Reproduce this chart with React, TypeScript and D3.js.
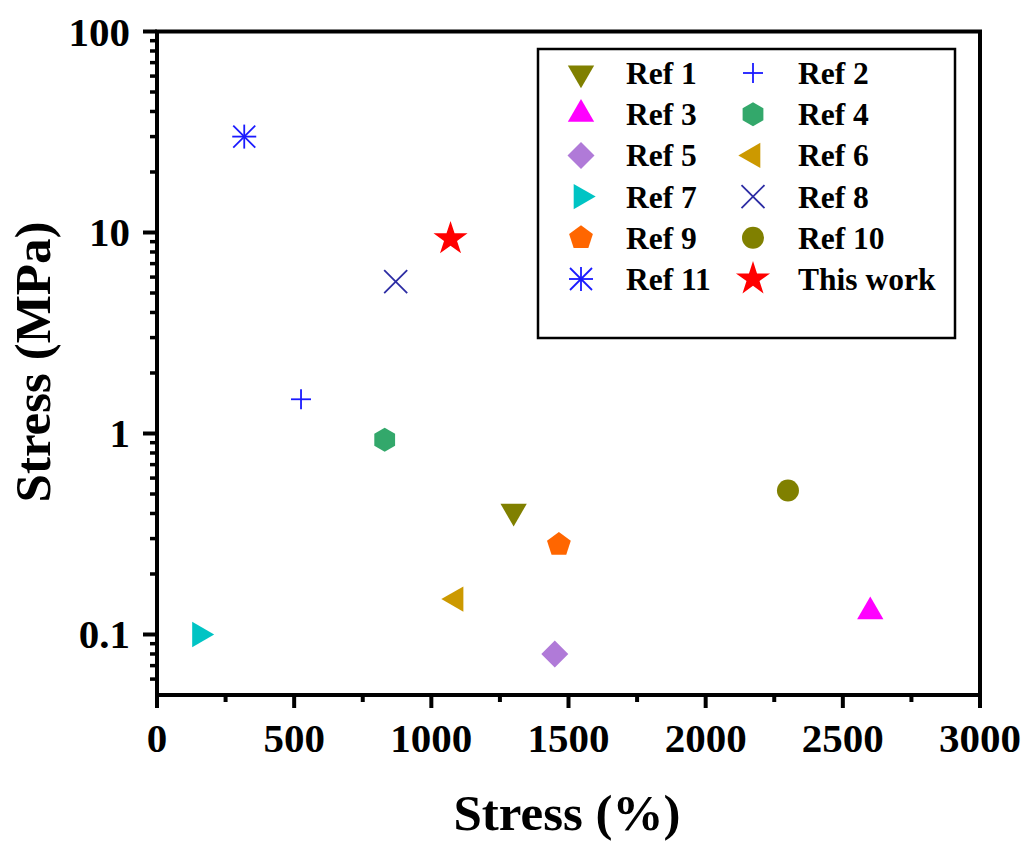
import React from "react";
import * as d3 from "d3";

const labels = ["Ref 1", "Ref 2", "Ref 3", "Ref 4", "Ref 5", "Ref 6", "Ref 7", "Ref 8", "Ref 9", "Ref 10", "Ref 11", "This work"];
const strainValues = [1300, 525, 2600, 830, 1450, 1090, 155, 870, 1465, 2300, 318, 1070];
const stressValues = [0.41, 1.48, 0.13, 0.93, 0.08, 0.15, 0.1, 5.7, 0.28, 0.52, 30, 9.3];
const markerKinds = ["triDown", "plus", "triUp", "hexagon", "diamond", "triLeft", "triRight", "cross", "pentagon", "circle", "asterisk", "star"];
const colors = ["#808000", "#1a1aff", "#ff00ff", "#33a86b", "#b07ad8", "#cc9900", "#00c4c4", "#2b2ba3", "#ff6600", "#808000", "#1a1aff", "#ff0000"];
const xTicks = [0, 500, 1000, 1500, 2000, 2500, 3000];
const yTicks = [0.1, 1, 10, 100];
const yTickLabels = ["0.1", "1", "10", "100"];

const W = 1030, H = 841;
const L = 157, R = 980, T = 31.5, B = 695;
const FONT = "'Liberation Serif', 'Times New Roman', serif";

function polygon(n: number, r: number, rot: number): string {
  const pts: string[] = [];
  for (let i = 0; i < n; i++) {
    const a = rot + (i * 2 * Math.PI) / n;
    pts.push(`${(r * Math.cos(a)).toFixed(2)},${(r * Math.sin(a)).toFixed(2)}`);
  }
  return "M" + pts.join("L") + "Z";
}

function Marker({ kind, color, x, y }: { kind: string; color: string; x: number; y: number }) {
  const t = `translate(${x},${y})`;
  switch (kind) {
    case "triDown":
      return <path transform={t + " rotate(180)"} d={d3.symbol(d3.symbolTriangle, 300)()!} fill={color} />;
    case "triUp":
      return <path transform={t} d={d3.symbol(d3.symbolTriangle, 300)()!} fill={color} />;
    case "triLeft":
      return <path transform={t + " rotate(-90)"} d={d3.symbol(d3.symbolTriangle, 280)()!} fill={color} />;
    case "triRight":
      return <path transform={t + " rotate(90)"} d={d3.symbol(d3.symbolTriangle, 280)()!} fill={color} />;
    case "diamond":
      return <path transform={t} d={polygon(4, 13.5, 0)} fill={color} />;
    case "hexagon":
      return <path transform={t} d={polygon(6, 12, -Math.PI / 2)} fill={color} />;
    case "pentagon":
      return <path transform={t} d={polygon(5, 12.5, -Math.PI / 2)} fill={color} />;
    case "circle":
      return <circle cx={x} cy={y} r={11} fill={color} />;
    case "star":
      return <path transform={t} d={d3.symbol(d3.symbolStar, 360)()!} fill={color} />;
    case "plus":
      return (
        <g transform={t} stroke={color} strokeWidth={1.8}>
          <line x1={-10} x2={10} y1={0} y2={0} />
          <line x1={0} x2={0} y1={-10} y2={10} />
        </g>
      );
    case "cross":
      return (
        <g transform={t} stroke={color} strokeWidth={1.8}>
          <line x1={-11.5} x2={11.5} y1={-11.5} y2={11.5} />
          <line x1={-11.5} x2={11.5} y1={11.5} y2={-11.5} />
        </g>
      );
    case "asterisk":
      return (
        <g transform={t} stroke={color} strokeWidth={1.8}>
          <line x1={-12} x2={12} y1={0} y2={0} />
          <line x1={0} x2={0} y1={-12} y2={12} />
          <line x1={-11} x2={11} y1={-11} y2={11} />
          <line x1={-11} x2={11} y1={11} y2={-11} />
        </g>
      );
    default:
      return null;
  }
}

export default function App() {
  const x = d3.scaleLinear().domain([0, 3000]).range([L, R]);
  const y = d3.scaleLog().domain([0.05, 100]).range([B, T]);

  const xMinor = d3.range(250, 3000, 500);
  const yMinor: number[] = [];
  for (const dec of [0.01, 0.1, 1, 10]) {
    for (let k = 2; k <= 9; k++) {
      const v = dec * k;
      if (v > 0.0501 && v < 100) yMinor.push(v);
    }
  }

  const legX1 = 581, legT1 = 626, legX2 = 753, legT2 = 798;
  const legY0 = 73, legDy = 41.2;

  return (
    <svg width={W} height={H} style={{ position: "absolute", left: 0, top: 0, background: "#fff" }}>
      <rect x={0} y={0} width={W} height={H} fill="#fff" />
      {labels.map((lab, i) => (
        <Marker key={lab} kind={markerKinds[i]} color={colors[i]} x={x(strainValues[i])} y={y(stressValues[i])} />
      ))}
      <rect x={L} y={T} width={R - L} height={B - T} fill="none" stroke="#000" strokeWidth={4} />
      {xTicks.map((v) => (
        <g key={"xt" + v}>
          <line x1={x(v)} x2={x(v)} y1={B} y2={B + 13} stroke="#000" strokeWidth={4} />
          <text x={x(v)} y={752} textAnchor="middle" fontFamily={FONT} fontWeight="bold" fontSize={41}>
            {v}
          </text>
        </g>
      ))}
      {xMinor.map((v) => (
        <line key={"xm" + v} x1={x(v)} x2={x(v)} y1={B} y2={B + 7} stroke="#000" strokeWidth={4} />
      ))}
      {yTicks.map((v, i) => (
        <g key={"yt" + v}>
          <line x1={L - 14} x2={L} y1={y(v)} y2={y(v)} stroke="#000" strokeWidth={4} />
          <text x={L - 27} y={y(v) + 14} textAnchor="end" fontFamily={FONT} fontWeight="bold" fontSize={41}>
            {yTickLabels[i]}
          </text>
        </g>
      ))}
      {yMinor.map((v) => (
        <line key={"ym" + v} x1={L - 7} x2={L} y1={y(v)} y2={y(v)} stroke="#000" strokeWidth={3.5} />
      ))}
      <text x={567} y={830} textAnchor="middle" fontFamily={FONT} fontWeight="bold" fontSize={51}>
        Stress (%)
      </text>
      <text
        transform={`translate(50,362) rotate(-90)`}
        textAnchor="middle"
        fontFamily={FONT}
        fontWeight="bold"
        fontSize={51}
      >
        Stress (MPa)
      </text>
      <rect x={538} y={49} width={417} height={289} fill="#fff" stroke="#000" strokeWidth={2.5} />
      {labels.map((lab, i) => {
        const col = i % 2;
        const row = Math.floor(i / 2);
        const mx = col === 0 ? legX1 : legX2;
        const tx = col === 0 ? legT1 : legT2;
        const yy = legY0 + row * legDy;
        return (
          <g key={"leg" + lab}>
            <Marker kind={markerKinds[i]} color={colors[i]} x={mx} y={yy} />
            <text x={tx} y={yy + 11} fontFamily={FONT} fontWeight="bold" fontSize={31.5}>
              {lab}
            </text>
          </g>
        );
      })}
    </svg>
  );
}
